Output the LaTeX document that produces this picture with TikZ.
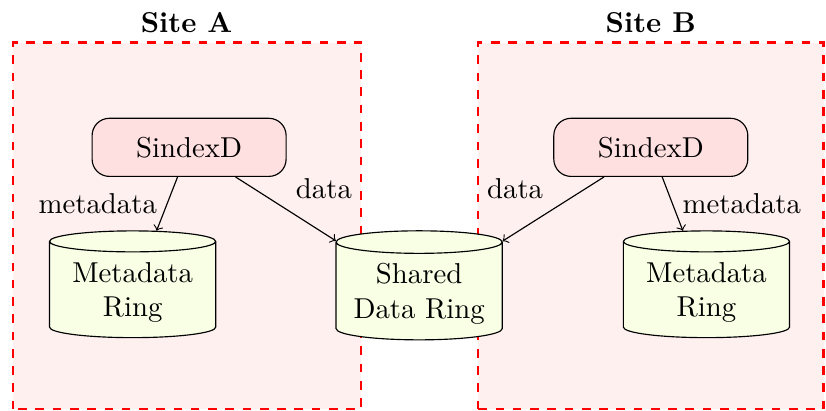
\documentclass[tikz,border=0pt]{standalone}
\usetikzlibrary{shapes.geometric}
\begin{document}
\begin{tikzpicture}[
   site/.style={draw=red, thick, dashed, fill=red!6},
   daemon/.style={draw, rounded corners=6pt, fill=red!12, minimum width=2.37cm, minimum height=0.71cm},
   ring/.style={draw, cylinder, shape border rotate=90, aspect=0.15, fill=lime!10, align=center, minimum width=2.03cm, minimum height=1.23cm},
   sitelabel/.style={font=\bfseries},
   flow/.style={->}]
   \useasboundingbox (0,0) rectangle (10.09,5.02);
   % the two sites
   \draw[site] (0.16,0.02) rectangle (4.41,4.5);
   \draw[site] (5.84,0.02) rectangle (10.06,4.5);
   \node[sitelabel, above] (labA) at (2.28,4.5) {Site A};
   \node[sitelabel, above] (labB) at (7.95,4.5) {Site B};
   % daemons and rings
   \node[daemon] (sxA) at (2.31,3.22) {SindexD};
   \node[daemon] (sxB) at (7.95,3.22) {SindexD};
   \node[ring] (metaA) at (1.62,1.45) {Metadata\\Ring};
   \node[ring] (shared) at (5.12,1.43) {Shared\\Data Ring};
   \node[ring] (metaB) at (8.63,1.45) {Metadata\\Ring};
   \draw[flow] (sxA) -- node[midway, left] {metadata} (metaA);
   \draw[flow] (sxA) -- node[midway, above right] {data} (shared);
   \draw[flow] (sxB) -- node[midway, above left] {data} (shared);
   \draw[flow] (sxB) -- node[midway, right] {metadata} (metaB);
\end{tikzpicture}
\end{document}
